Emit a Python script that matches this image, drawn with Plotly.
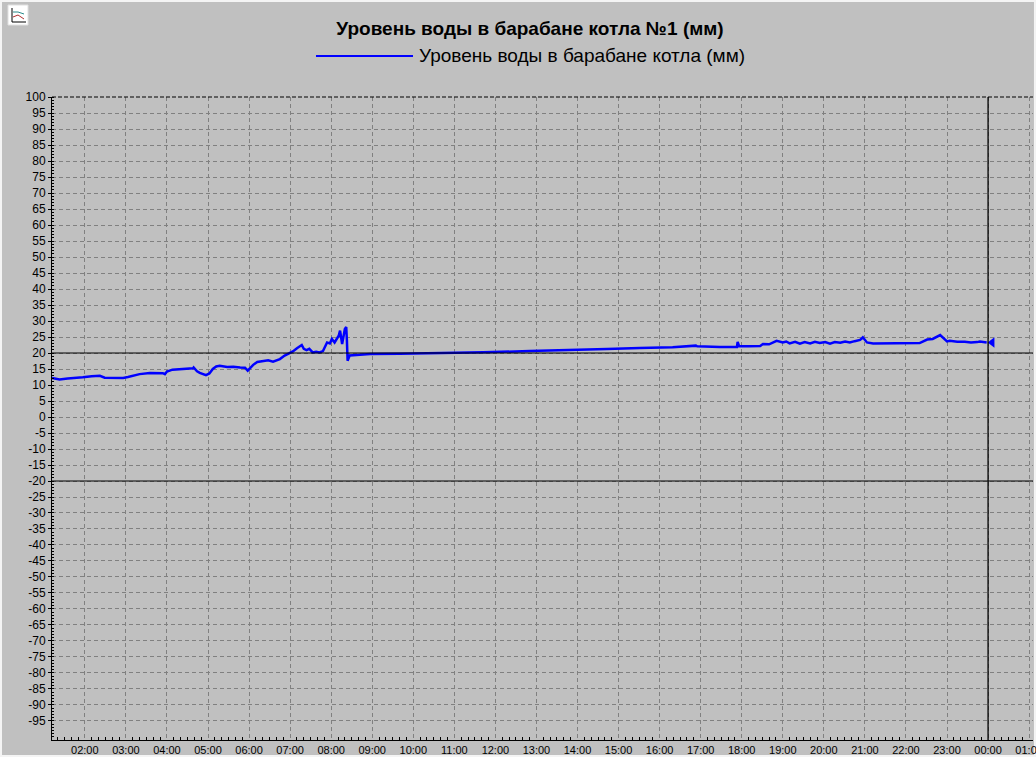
import plotly.graph_objects as go

# ---------------------------------
# Данные
# ---------------------------------
DAY = "2024-03-15"
NEXT_DAY = "2024-03-16"

TITLE = "Уровень воды в барабане котла №1 (мм)"
SERIES_NAME = "Уровень воды в барабане котла (мм)"

TIMES = [
    "01:12", "01:18", "01:23", "01:35", "01:45", "01:57", "02:10", "02:22", "02:29", "02:40",
    "02:56", "03:03", "03:12", "03:20", "03:35", "03:48", "03:54", "03:57", "04:00", "04:08",
    "04:19", "04:30", "04:38", "04:39", "04:44", "04:48", "04:57", "05:02", "05:07", "05:12",
    "05:17", "05:28", "05:37", "05:47", "05:54", "05:58", "06:06", "06:12", "06:20", "06:28",
    "06:35", "06:45", "06:52", "07:00", "07:04", "07:10", "07:17", "07:20", "07:24", "07:28",
    "07:33", "07:38", "07:43", "07:48", "07:54", "07:58", "08:01", "08:05", "08:11", "08:13",
    "08:16", "08:20", "08:22", "08:23", "08:24", "08:27", "08:57", "09:40", "10:39", "11:42",
    "12:50", "13:59", "14:43", "15:31", "16:19", "16:53", "16:55", "17:28", "17:53", "17:54",
    "17:56", "18:10", "18:27", "18:31", "18:40", "18:51", "19:00", "19:05", "19:10", "19:18",
    "19:25", "19:32", "19:40", "19:47", "19:54", "20:02", "20:09", "20:16", "20:24", "20:31",
    "20:38", "20:45", "20:53", "20:57", "21:03", "21:12", "21:51", "22:20", "22:31", "22:39",
    "22:50", "23:00", "23:04", "23:15", "23:26", "23:35", "23:44", "23:48", "23:58",
]
LEVELS = [
    12.2, 11.9, 11.7, 12.0, 12.1, 12.4, 12.7, 12.9, 12.3, 12.2,
    12.2, 12.5, 13.0, 13.4, 13.75, 13.8, 13.7, 13.4, 14.2, 14.8,
    15.0, 15.0, 15.2, 15.5, 14.3, 13.8, 13.1, 13.6, 15.0, 15.8,
    16.0, 15.6, 15.7, 15.5, 15.4, 14.5, 16.3, 17.2, 17.5, 17.7,
    17.3, 18.1, 19.2, 20.0, 20.5, 21.5, 22.5, 21.3, 20.9, 21.3,
    20.2, 20.4, 20.2, 20.6, 23.3, 23.0, 24.4, 23.3, 25.4, 27.0,
    22.8, 27.5, 28.1, 23.8, 17.6, 19.2, 19.7, 19.8, 19.9, 20.2,
    20.6, 20.9, 21.25, 21.6, 21.8, 22.3, 22.1, 21.9, 21.9, 23.5,
    22.2, 22.1, 22.2, 22.8, 22.7, 23.8, 23.3, 23.6, 23.0, 23.5,
    22.9, 23.4, 23.0, 23.5, 23.1, 23.4, 22.9, 23.4, 23.2, 23.6,
    23.3, 23.7, 24.1, 24.9, 23.3, 23.0, 23.0, 23.1, 24.2, 24.4,
    25.6, 23.6, 23.8, 23.5, 23.5, 23.3, 23.4, 23.6, 23.3,
]

# Курсор (текущее время) и маркер значения
CURSOR_TIME = NEXT_DAY + " 00:00"
MARKER_TIME = [NEXT_DAY + " 00:06"]
MARKER_VALUE = [23.3]

# Уставки
LIMITS = [20, -20]

# Подписи оси Y
Y_TICKS = list(range(100, -100, -5))

X_START = DAY + " 01:12"
X_END = NEXT_DAY + " 01:05:40"

BG = "#c0c0c0"
BLUE = "#0000ff"
FONT = "Liberation Sans, Arial, sans-serif"

x_values = [DAY + " " + t for t in TIMES]

fig = go.Figure()

fig.add_trace(go.Scatter(
    x=x_values, y=LEVELS,
    mode="lines",
    name=SERIES_NAME,
    line=dict(color=BLUE, width=2.5),
    showlegend=False,
))

fig.add_trace(go.Scatter(
    x=MARKER_TIME, y=MARKER_VALUE,
    mode="markers",
    marker=dict(symbol="triangle-left", size=9, color=BLUE),
    showlegend=False,
    hoverinfo="skip",
))

# Уставки и курсор
for lim in LIMITS:
    fig.add_shape(type="line", xref="paper", x0=0, x1=1, yref="y", y0=lim, y1=lim,
                  line=dict(color="black", width=1))
fig.add_shape(type="line", xref="x", x0=CURSOR_TIME, x1=CURSOR_TIME,
              yref="paper", y0=0, y1=1, line=dict(color="black", width=1.3))

# Верхняя граница области графика (пунктир)
fig.add_shape(type="line", xref="paper", x0=0, x1=1, yref="paper", y0=1, y1=1,
              line=dict(color="black", width=1, dash="4px,2px"))

# Легенда (рисуется вручную: длинная линия как в оригинале)
fig.add_shape(type="line", xref="paper", yref="paper",
              x0=0.2691, x1=0.368, y0=1.0638, y1=1.0638,
              line=dict(color=BLUE, width=2))
fig.add_annotation(text=SERIES_NAME, xref="paper", yref="paper",
                   x=0.3721, y=1.0638, xanchor="left", yanchor="middle",
                   showarrow=False, font=dict(family=FONT, size=19, color="black"))

# Рамка окна
fig.add_shape(type="rect", xref="paper", yref="paper",
              x0=-0.0520, x1=1.0020, y0=-0.0249, y1=1.1493,
              line=dict(color="#f4f4f4", width=2), layer="below")

# Иконка в левом верхнем углу
fig.add_shape(type="rect", xref="paper", yref="paper",
              x0=(8 - 52) / 981, x1=(28 - 52) / 981,
              y0=(740 - 25) / 643, y1=(740 - 5) / 643,
              fillcolor="white", line=dict(color="#e0e0e0", width=1))
fig.add_shape(type="path", xref="paper", yref="paper",
              path="M {0},{1} L {0},{2} L {3},{2}".format(
                  (12 - 52) / 981, (740 - 8) / 643, (740 - 22) / 643, (26 - 52) / 981),
              line=dict(color="black", width=1))
fig.add_shape(type="path", xref="paper", yref="paper",
              path="M {0},{1} L {2},{3} L {4},{5}".format(
                  (13 - 52) / 981, (740 - 12) / 643, (18 - 52) / 981, (740 - 12) / 643,
                  (24 - 52) / 981, (740 - 14) / 643),
              line=dict(color="#2a8a8a", width=1))
fig.add_shape(type="path", xref="paper", yref="paper",
              path="M {0},{1} L {2},{3} L {4},{5}".format(
                  (13 - 52) / 981, (740 - 17) / 643, (18 - 52) / 981, (740 - 15) / 643,
                  (24 - 52) / 981, (740 - 19) / 643),
              line=dict(color="#b03030", width=1))

fig.update_xaxes(
    type="date",
    range=[X_START, X_END],
    tickformat="%H:%M",
    tick0=DAY + " 02:00",
    dtick=3600000,
    showgrid=True,
    gridcolor="#808080",
    griddash="4px,3px",
    gridwidth=1,
    showline=True,
    linecolor="black",
    linewidth=1,
    ticks="",
    minor=dict(ticks="inside", ticklen=3, tickcolor="black", dtick=600000,
               tick0=DAY + " 02:00", showgrid=False),
    tickfont=dict(family=FONT, size=11, color="black"),
    ticklabeloverflow="allow",
    zeroline=False,
    automargin=False,
    fixedrange=True,
)

fig.update_yaxes(
    range=[-100.94, 100],
    tickmode="array",
    tickvals=Y_TICKS,
    ticktext=[str(v) for v in Y_TICKS],
    showgrid=True,
    gridcolor="#808080",
    griddash="4px,3px",
    gridwidth=1,
    showline=True,
    linecolor="black",
    linewidth=1,
    ticks="outside",
    ticklen=3,
    tickcolor="black",
    minor=dict(ticks="inside", ticklen=2, tickcolor="black", dtick=1, showgrid=False),
    tickfont=dict(family=FONT, size=12, color="black"),
    zeroline=False,
    automargin=False,
    fixedrange=True,
)

fig.update_layout(
    width=1036,
    height=757,
    margin=dict(l=52, r=3, t=97, b=17),
    paper_bgcolor=BG,
    plot_bgcolor=BG,
    title=dict(text="<b>" + TITLE + "</b>", xref="container", x=0.5116,
               y=1 - 28 / 757, yanchor="middle", xanchor="center",
               font=dict(family=FONT, size=19, color="black")),
    showlegend=False,
)

# убрать отступ страницы, чтобы график занял окно целиком
fig.write_html(
    "out.html",
    config={"displayModeBar": False},
    post_script="document.body.style.margin='0';document.body.style.overflow='hidden';",
)
